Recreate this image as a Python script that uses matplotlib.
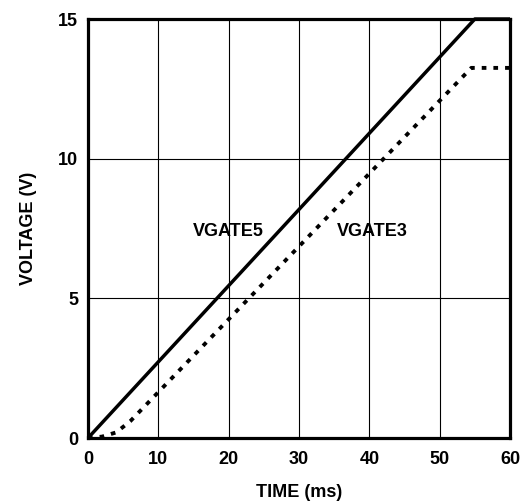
import matplotlib
matplotlib.use("Agg")
import matplotlib.pyplot as plt

# values
time_5 = [0, 55, 60]
vgate5 = [0, 15, 15]
time_3 = [0, 2, 4, 6, 54.5, 60]
vgate3 = [0, 0.05, 0.2, 0.6, 13.25, 13.25]

x_ticks = [0, 10, 20, 30, 40, 50, 60]
y_ticks = [0, 5, 10, 15]

plt.rcParams["font.family"] = ["Liberation Sans", "DejaVu Sans"]
plt.rcParams["font.weight"] = "bold"

fig = plt.figure(figsize=(5.22, 5.03), dpi=100)
ax = fig.add_axes([0.1686, 0.1292, 0.977 - 0.1686, 0.9622 - 0.1292])

ax.plot(time_5, vgate5, color="black", linewidth=2.5,
        solid_capstyle="butt", clip_on=False, zorder=3)
ax.plot(time_3, vgate3, color="black", linewidth=2.8,
        linestyle=(0, (1.2, 1.8)), dash_capstyle="butt", zorder=3)

ax.set_xlim(0, 60)
ax.set_ylim(0, 15)
ax.set_xticks(x_ticks)
ax.set_yticks(y_ticks)
ax.tick_params(length=0, labelsize=13)
ax.tick_params(axis="x", pad=9)
ax.tick_params(axis="y", pad=7)
for lab in ax.get_xticklabels() + ax.get_yticklabels():
    lab.set_fontweight("bold")
ax.grid(True, color="black", linewidth=0.8)
ax.set_axisbelow(True)
for s in ax.spines.values():
    s.set_linewidth(2.3)

ax.set_xlabel("TIME (ms)", fontsize=13, fontweight="bold", labelpad=12)
ax.set_ylabel("VOLTAGE (V)", fontsize=13, fontweight="bold", labelpad=15)

ax.text(19.9, 7.4, "VGATE5", fontsize=13, fontweight="bold", ha="center", va="center")
ax.text(40.4, 7.4, "VGATE3", fontsize=13, fontweight="bold", ha="center", va="center")

fig.savefig("out.png", dpi=100)
